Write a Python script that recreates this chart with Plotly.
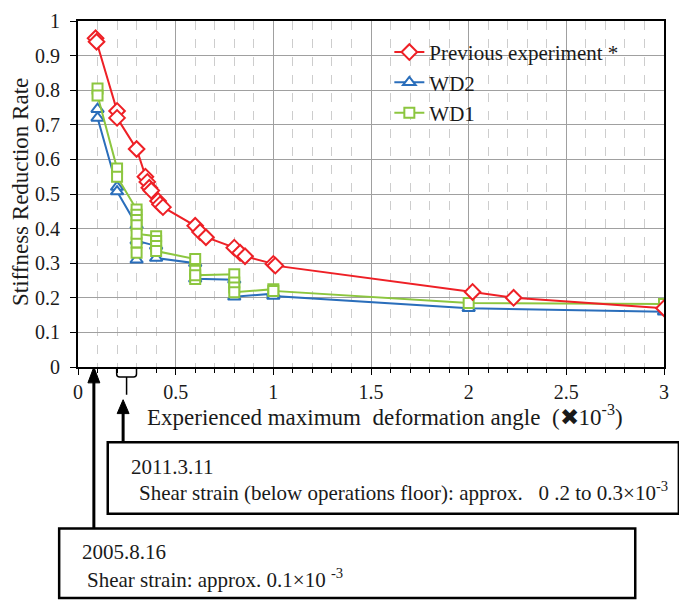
import plotly.graph_objects as go

# ---------------- data ----------------
x_prev = [0.09, 0.095, 0.2, 0.2, 0.3, 0.345, 0.355, 0.365, 0.375, 0.41, 0.42, 0.435,
          0.6, 0.625, 0.655, 0.8, 0.83, 0.855, 1.0, 1.01, 2.02, 2.23, 3.0]
y_prev = [0.95, 0.94, 0.74, 0.72, 0.63, 0.55, 0.535, 0.518, 0.51, 0.48, 0.47, 0.462,
          0.408, 0.39, 0.375, 0.345, 0.33, 0.32, 0.298, 0.293, 0.217, 0.2, 0.17]

x_wd2 = [0.1, 0.1, 0.2, 0.2, 0.3, 0.3, 0.3, 0.4, 0.4, 0.6, 0.6, 0.8, 0.8, 1.0, 1.0, 2.0, 3.0]
y_wd2 = [0.745, 0.72, 0.52, 0.507, 0.41, 0.31, 0.365, 0.35, 0.315, 0.30, 0.255, 0.252, 0.203,
         0.212, 0.205, 0.17, 0.16]

x_wd1 = [0.1, 0.1, 0.2, 0.2, 0.3, 0.3, 0.3, 0.3, 0.3, 0.3, 0.3, 0.4, 0.4, 0.4, 0.4,
         0.6, 0.6, 0.6, 0.6, 0.8, 0.8, 0.8, 0.8, 1.0, 1.0, 2.0, 3.0]
y_wd1 = [0.805, 0.785, 0.574, 0.55, 0.455, 0.44, 0.425, 0.41, 0.36, 0.33, 0.385,
         0.378, 0.364, 0.35, 0.335, 0.312, 0.278, 0.254, 0.265, 0.268, 0.244, 0.23, 0.216,
         0.225, 0.22, 0.185, 0.182]

x_ticks = [0, 0.5, 1, 1.5, 2, 2.5, 3]
y_ticks = [0, 0.1, 0.2, 0.3, 0.4, 0.5, 0.6, 0.7, 0.8, 0.9, 1]

SERIF = "Liberation Serif, Times New Roman, serif"
RED, BLUE, GREEN = "#ee2026", "#2a6ebb", "#8cc63f"

# ---------------- figure ----------------
fig = go.Figure()

def add(x, y, name, color, symbol, size, rank):
    fig.add_trace(go.Scatter(
        x=x, y=y, name=name, mode="lines+markers", legendrank=rank,
        line=dict(color=color, width=2),
        marker=dict(symbol=symbol, size=size, color="white",
                    line=dict(color=color, width=2)),
    ))

add(x_wd2, y_wd2, "WD2", BLUE, "triangle-up", 11, 2)
add(x_wd1, y_wd1, "WD1", GREEN, "square", 10, 3)
add(x_prev, y_prev, "Previous experiment *", RED, "diamond", 12, 1)

L, R, T, B = 78, 669, 18, 367
W, H = 679, 602

def px(p):
    return (p - L) / (R - L)

def py(p):
    return (B - p) / (B - T)

fig.update_layout(
    width=W, height=H,
    margin=dict(l=L, r=W - R, t=T, b=H - B),
    plot_bgcolor="white", paper_bgcolor="white",
    font=dict(family=SERIF, size=20, color="#1a1a1a"),
    legend=dict(x=px(392), y=py(29), xanchor="left", yanchor="top",
                bgcolor="rgba(0,0,0,0)", font=dict(size=21, family=SERIF),
                tracegroupgap=0, itemwidth=30),
    xaxis=dict(range=[0, 3], tickvals=x_ticks, showgrid=True, gridcolor="#a0a0a0",
               gridwidth=1.3, ticks="outside", ticklen=6, tickcolor="black",
               showline=True, linecolor="black", linewidth=2, mirror=True,
               zeroline=False, tickfont=dict(size=20, family=SERIF),
               minor=dict(dtick=0.1, showgrid=True, gridcolor="#cdcdcd",
                          griddash="dash", gridwidth=1, ticks="outside",
                          ticklen=4, tickcolor="black")),
    yaxis=dict(range=[0, 1], tickvals=y_ticks, showgrid=True, gridcolor="#a0a0a0",
               gridwidth=1.3, ticks="outside", ticklen=6, tickcolor="black",
               showline=True, linecolor="black", linewidth=2, mirror=True,
               zeroline=False, tickfont=dict(size=20, family=SERIF), ticklabelstandoff=6),
)

shapes = []
# 2005 arrow
shapes.append(dict(type="line", xref="paper", yref="paper", x0=px(94), x1=px(94),
                   y0=py(381), y1=py(530), line=dict(color="black", width=3)))
shapes.append(dict(type="path", xref="paper", yref="paper",
                   path=f"M {px(94)} {py(367)} L {px(88)} {py(383)} L {px(100)} {py(383)} Z",
                   fillcolor="black", line=dict(color="black", width=1)))
# bracket 0.2-0.3
shapes.append(dict(type="path", xref="paper", yref="paper",
                   path=(f"M {px(117)} {py(368)} L {px(117)} {py(374)} Q {px(117)} {py(377)} {px(120)} {py(377)} "
                         f"L {px(134)} {py(377)} Q {px(137)} {py(377)} {px(137)} {py(374)} L {px(137)} {py(368)} "
                         f"M {px(127)} {py(377)} L {px(127)} {py(395)}"),
                   line=dict(color="black", width=1.5)))
# 2011 arrow
shapes.append(dict(type="line", xref="paper", yref="paper", x0=px(123.5), x1=px(123.5),
                   y0=py(412), y1=py(443), line=dict(color="black", width=3)))
shapes.append(dict(type="path", xref="paper", yref="paper",
                   path=f"M {px(123.5)} {py(400)} L {px(117.5)} {py(414)} L {px(129.5)} {py(414)} Z",
                   fillcolor="black", line=dict(color="black", width=1)))
# boxes
shapes.append(dict(type="rect", xref="paper", yref="paper", x0=px(108), x1=px(684),
                   y0=py(443), y1=py(515), line=dict(color="black", width=2.5),
                   fillcolor="rgba(0,0,0,0)"))
shapes.append(dict(type="rect", xref="paper", yref="paper", x0=px(59), x1=px(640),
                   y0=py(530), y1=py(600), line=dict(color="black", width=2.5),
                   fillcolor="rgba(0,0,0,0)"))
fig.update_layout(shapes=shapes)

NB = "\u00a0"
ann = [
    dict(text="Experienced maximum" + NB + NB + "deformation angle" + NB + NB + "(✖10<sup>-3</sup>)",
         x=px(388), y=py(416), font=dict(size=23, family=SERIF), xanchor="center"),
    dict(text="Stiffness Reduction Rate", x=px(20), y=py(190), textangle=-90,
         font=dict(size=23, family=SERIF), xanchor="center"),
    dict(text="2011.3.11", x=px(129), y=py(468), xanchor="left", font=dict(size=21, family=SERIF)),
    dict(text="Shear strain (below operations floor): approx." + NB * 3 + "0 .2 to 0.3×10<sup>-3</sup>",
         x=px(137), y=py(493), xanchor="left", font=dict(size=21, family=SERIF)),
    dict(text="2005.8.16", x=px(80), y=py(554), xanchor="left", font=dict(size=21, family=SERIF)),
    dict(text="Shear strain: approx. 0.1×10" + NB + "<sup>-3</sup>",
         x=px(85), y=py(580), xanchor="left", font=dict(size=21, family=SERIF)),
]
for a in ann:
    a.update(xref="paper", yref="paper", showarrow=False, yanchor="middle")
fig.update_layout(annotations=ann)

fig.write_html("out.html")
